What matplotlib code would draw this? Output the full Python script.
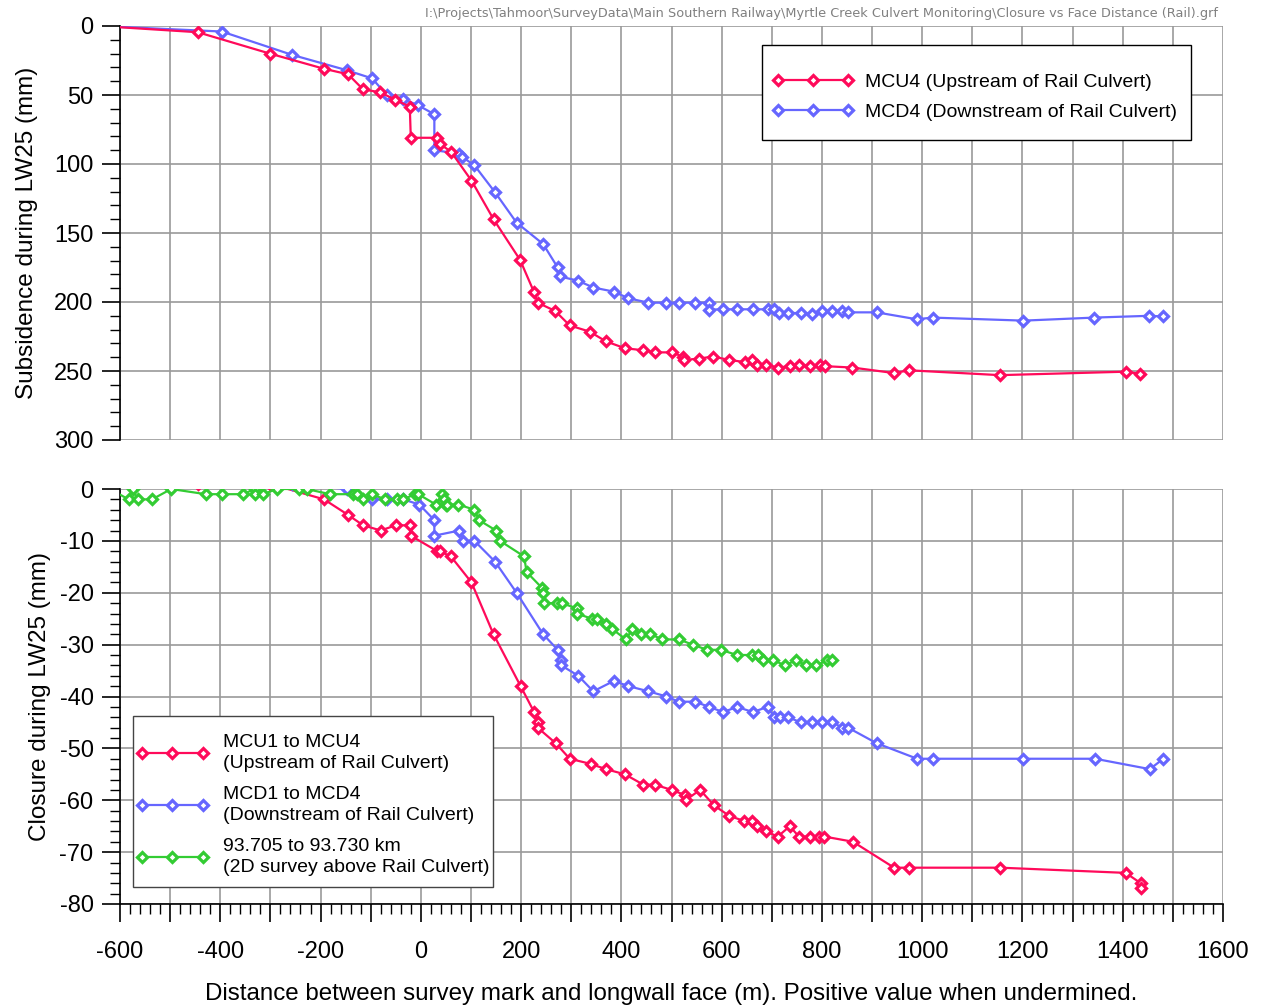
import matplotlib
matplotlib.use("Agg")
import matplotlib.pyplot as plt
from matplotlib.ticker import MultipleLocator, FuncFormatter
from matplotlib.patches import Rectangle

plt.rcParams['font.family'] = ['Liberation Sans', 'DejaVu Sans']
plt.rcParams['axes.unicode_minus'] = False

# ---------------- data ----------------
# Subsidence (top panel)
mcu4_x = [-640, -445, -301, -193, -145, -115, -81, -51, -22, -20, 33, 38, 60, 101, 145,
          198, 226, 233, 268, 297, 337, 369, 407, 444, 467, 500, 522, 525, 555, 583, 615,
          646, 660, 670, 688, 713, 736, 755, 776, 796, 806, 861, 944, 974, 1155, 1406, 1434]
mcu4_y = [0, 4.5, 20, 31, 35, 46, 48, 53.5, 58.5, 81, 81, 85.5, 91, 112, 140,
          169.5, 193, 200.5, 206.5, 217, 221.5, 228.5, 233.5, 235, 236.5, 236.5, 239.5, 242, 241, 239.5, 242,
          243.5, 242, 245.5, 245.5, 247.5, 246.5, 245.5, 246.5, 245.5, 246.5, 247.5, 251.5, 249.5, 253, 250.5, 252]

mcd4_x = [-640, -397, -256, -148, -97, -68, -35, -5, 27, 27, 76, 83, 107, 148, 191, 244,
          273, 277, 313, 344, 385, 414, 454, 489, 514, 547, 574, 574, 602, 630, 662, 692,
          705, 714, 733, 758, 781, 801, 821, 840, 852, 909, 989, 1021, 1202, 1343, 1453, 1481]
mcd4_y = [0, 4, 21, 32, 38, 50, 53, 57.5, 64, 90, 92.5, 95, 101, 120.5, 142.5, 158,
          175, 181.5, 184.5, 189.5, 192.5, 197.3, 200.5, 200.5, 200.5, 200.5, 200.5, 205.5, 205.3, 205.3, 205.3, 205.3,
          205.3, 208, 208, 208, 208.5, 206.5, 206.5, 206.5, 207.5, 207.5, 212.5, 211.3, 213.5, 211.3, 210, 210.5]

# Closure (bottom panel)
mcu_x = [-445, -301, -193, -145, -115, -80, -50, -22, -20, 33, 38, 60, 101, 145, 199,
         226, 233, 233, 269, 297, 339, 369, 407, 444, 467, 500, 527, 528, 557, 585, 615,
         645, 660, 670, 688, 712, 736, 754, 776, 795, 805, 862, 944, 974, 1156, 1406, 1436, 1436]
mcu_y = [1, 1, -2, -5, -7, -8, -7, -7, -9, -12, -12, -13, -18, -28, -38,
         -43, -45, -46, -49, -52, -53, -54, -55, -57, -57, -58, -59, -60, -58, -61, -63,
         -64, -64, -65, -66, -67, -65, -67, -67, -67, -67, -68, -73, -73, -73, -74, -76, -77]

mcd_x = [-620, -397, -256, -148, -98, -68, -35, -3, 27, 27, 77, 85, 107, 148, 191, 244,
         273, 279, 280, 314, 344, 385, 414, 454, 490, 514, 547, 575, 603, 631, 662, 692,
         705, 717, 733, 758, 781, 801, 821, 841, 852, 909, 990, 1021, 1202, 1345, 1454, 1481]
mcd_y = [0, 2, 1, 0, -2, -2, -2, -3, -6, -9, -8, -10, -10, -14, -20, -28,
         -31, -33, -34, -36, -39, -37, -38, -39, -40, -41, -41, -42, -43, -42, -43, -42,
         -44, -44, -44, -45, -45, -45, -45, -46, -46, -49, -52, -52, -52, -52, -54, -52]

rail_x = [-620, -583, -575, -565, -536, -498, -429, -397, -355, -331, -331, -315, -287, -242,
          -228, -181, -135, -127, -115, -98, -71, -48, -35, -12, -5, 30, 43, 47, 51, 53, 75,
          107, 116, 150, 158, 206, 211, 241, 244, 246, 271, 281, 311, 311, 341, 351, 369, 382,
          409, 422, 440, 458, 482, 515, 542, 571, 599, 630, 660, 672, 683, 703, 726, 749, 768,
          789, 810, 821]
rail_y = [0, -2, 0, -2, -2, 0, -1, -1, -1, 0, -1, -1, 0, 0,
          0, -1, -1, -1, -2, -1, -2, -2, -2, -1, -1, -3, -1, -2, -3, -3, -3,
          -4, -6, -8, -10, -13, -16, -19, -20, -22, -22, -22, -23, -24, -25, -25, -26, -27,
          -29, -27, -28, -28, -29, -29, -30, -31, -31, -32, -32, -32, -33, -33, -34, -33, -34,
          -34, -33, -33]

top_labels = ["MCU4 (Upstream of Rail Culvert)", "MCD4 (Downstream of Rail Culvert)"]
bot_labels = ["MCU1 to MCU4\n(Upstream of Rail Culvert)",
              "MCD1 to MCD4\n(Downstream of Rail Culvert)",
              "93.705 to 93.730 km\n(2D survey above Rail Culvert)"]

RED = '#FF0A5A'
BLUE = '#6666FF'
GREEN = '#33CC33'
GRID = '#9a9a9a'

fig = plt.figure(figsize=(12.68, 10.07), dpi=100)
W, H = 1268, 1007
ax1 = fig.add_axes([120 / W, 1 - 440 / H, 1103 / W, 414 / H])
ax2 = fig.add_axes([120 / W, 1 - 904 / H, 1103 / W, 415 / H])

mk = dict(marker='D', markersize=5.2, markerfacecolor='white', markeredgewidth=2.3,
          linewidth=1.6, clip_on=True)

ax1.plot(mcu4_x, mcu4_y, color=RED, markeredgecolor=RED, label=top_labels[0], zorder=4, **mk)
ax1.plot(mcd4_x, mcd4_y, color=BLUE, markeredgecolor=BLUE, label=top_labels[1], zorder=3, **mk)

ax2.plot(mcu_x, mcu_y, color=RED, markeredgecolor=RED, label=bot_labels[0], zorder=3, **mk)
ax2.plot(mcd_x, mcd_y, color=BLUE, markeredgecolor=BLUE, label=bot_labels[1], zorder=3, **mk)
ax2.plot(rail_x, rail_y, color=GREEN, markeredgecolor=GREEN, label=bot_labels[2], zorder=4, **mk)

for ax in (ax1, ax2):
    ax.set_xlim(-600, 1600)
    ax.xaxis.set_major_locator(MultipleLocator(100))
    ax.xaxis.set_minor_locator(MultipleLocator(20))
    ax.grid(True, which='major', color=GRID, linewidth=1.2)
    ax.set_axisbelow(True)
    for s in ('top', 'right'):
        ax.spines[s].set_visible(False)
    ax.spines['left'].set_linewidth(1.2)
    ax.tick_params(axis='y', which='major', direction='out', length=13, width=1.2,
                   labelsize=17, pad=6)
    ax.tick_params(axis='y', which='minor', direction='out', length=7, width=1.0)

ax1.set_ylim(300, 0)
ax1.yaxis.set_major_locator(MultipleLocator(50))
ax1.yaxis.set_minor_locator(MultipleLocator(10))
ax1.spines['bottom'].set_visible(False)
ax1.tick_params(axis='x', which='both', bottom=False, labelbottom=False)
ax1.set_ylabel("Subsidence during LW25 (mm)", fontsize=17.5, labelpad=12)

ax2.set_ylim(-80, 0)
ax2.yaxis.set_major_locator(MultipleLocator(10))
ax2.yaxis.set_minor_locator(MultipleLocator(2))
ax2.spines['bottom'].set_linewidth(1.2)
ax2.xaxis.set_major_formatter(FuncFormatter(lambda v, p: f"{int(round(v))}" if round(v) % 200 == 0 else ""))
ax2.tick_params(axis='x', which='major', direction='out', length=13, width=1.2, labelsize=17, pad=14)
ax2.tick_params(axis='x', which='minor', direction='out', length=7, width=1.0)
ax2.set_ylabel("Closure during LW25 (mm)", fontsize=17.5, labelpad=6)
ax2.set_xlabel("Distance between survey mark and longwall face (m). Positive value when undermined.",
               fontsize=17.4, labelpad=14)

# legend frames
ax1.add_patch(Rectangle((0.582, 0.725), 0.971 - 0.582, 0.954 - 0.725, transform=ax1.transAxes,
                        facecolor='white', edgecolor='black', linewidth=1.0, zorder=5))
ax2.add_patch(Rectangle((0.0118, 0.041), 0.338 - 0.0118, 0.453 - 0.041, transform=ax2.transAxes,
                        facecolor='white', edgecolor='#444444', linewidth=1.0, zorder=5))

leg1 = ax1.legend(loc='center left', bbox_to_anchor=(0.591, 0.8285), fontsize=14, numpoints=3,
                  handlelength=4.2, handletextpad=0.57, borderpad=0, labelspacing=0.62,
                  frameon=False, borderaxespad=0)
leg1.set_zorder(6)
for t in None or []:
    pass
leg2 = ax2.legend(loc='center left', bbox_to_anchor=(0.0145, 0.2386), fontsize=14, numpoints=3,
                  handlelength=3.74, handletextpad=0.74, borderpad=0, labelspacing=0.72,
                  frameon=False, borderaxespad=0)
for t in leg2.get_texts():
    t.set_linespacing(1.32)
leg2.set_zorder(6)

fig.text(1218 / W, 1 - 13 / H,
         "I:\\Projects\\Tahmoor\\SurveyData\\Main Southern Railway\\Myrtle Creek Culvert Monitoring\\Closure vs Face Distance (Rail).grf",
         ha='right', va='center', fontsize=9.3, color='#808080', family=['Liberation Sans Narrow', 'DejaVu Sans'])

fig.savefig("out.png", dpi=100)
